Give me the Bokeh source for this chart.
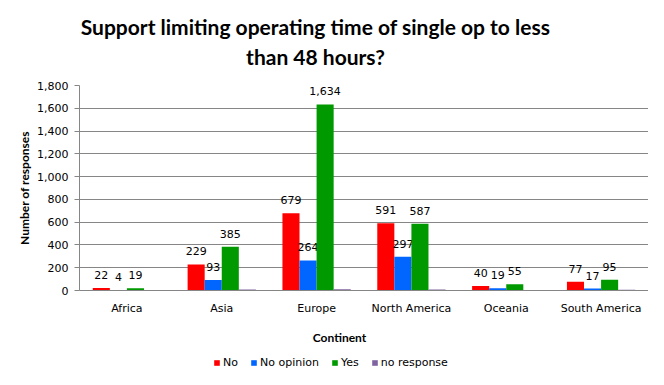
from bokeh.plotting import figure
from bokeh.layouts import column
from bokeh.models import (ColumnDataSource, FactorRange, Range1d, FixedTicker,
                          NumeralTickFormatter, Label, Legend, LegendItem)
from bokeh.transform import dodge
from bokeh.core.properties import value
from bokeh.embed import file_html
from bokeh.resources import INLINE

continents = ["Africa", "Asia", "Europe", "North America", "Oceania", "South America"]
no = [22, 229, 679, 591, 40, 77]
no_opinion = [4, 93, 264, 297, 19, 17]
yes = [19, 385, 1634, 587, 55, 95]
no_response = [0, 9, 10, 8, 0, 7]
y_ticks = list(range(0, 1801, 200))

series_names = ["No", "No opinion", "Yes", "no response"]
series_values = [no, no_opinion, yes, no_response]
colors = ["#FF0000", "#0066FF", "#009900", "#8064A2"]
offsets = [-0.27, -0.09, 0.09, 0.27]
show_labels = [True, True, True, False]

title_lines = ["Support limiting operating time of single op to less", "than 48 hours?"]
x_title = "Continent"
y_title = "Number of responses"

W = 648
LEFT = 79
TITLE_FONT = "Lato"
BODY_FONT = "DejaVu Sans"


def strip(height):
    # frames of the column are aligned with the main chart's frame (LEFT..W)
    f = figure(width=W, height=height, x_range=Range1d(LEFT, W), y_range=Range1d(height, 0),
               output_backend="svg", toolbar_location=None,
               x_axis_type=None, y_axis_type=None,
               min_border_left=LEFT, min_border_right=0, min_border_top=0, min_border_bottom=0)
    f.outline_line_color = None
    f.xgrid.visible = False
    f.ygrid.visible = False
    f.background_fill_color = "white"
    f.border_fill_color = "white"
    return f


# ---- title strip ----
top = strip(70)
for txt, yy in zip(title_lines, [26, 56]):
    top.add_layout(Label(x=315, y=yy, text=txt, text_align="center", text_baseline="middle",
                         text_font=TITLE_FONT, text_font_style="bold", text_font_size="21px",
                         text_color="black"))

# ---- main chart ----
p = figure(x_range=FactorRange(*continents), y_range=Range1d(0, 1800),
           width=W, height=248, output_backend="svg", toolbar_location=None,
           min_border_left=LEFT, min_border_right=0, min_border_top=15,
           min_border_bottom=28)
p.outline_line_color = None
p.background_fill_color = "white"
p.border_fill_color = "white"

p.xgrid.grid_line_color = None
p.ygrid.grid_line_color = "#868686"
p.ygrid.ticker = FixedTicker(ticks=y_ticks)

p.yaxis.ticker = FixedTicker(ticks=y_ticks)
p.yaxis.formatter = NumeralTickFormatter(format="0,0")
p.yaxis.major_tick_in = 0
p.yaxis.major_tick_out = 5
p.yaxis.minor_tick_line_color = None
p.yaxis.major_label_standoff = 6

for ax in (p.xaxis, p.yaxis):
    ax.axis_line_color = "#868686"
    ax.major_tick_line_color = "#868686"
    ax.major_label_text_font = BODY_FONT
    ax.major_label_text_font_size = "11px"
    ax.major_label_text_color = "black"

p.xaxis.major_tick_line_color = None
p.xaxis.major_tick_out = 0
p.xaxis.major_tick_in = 0
p.xaxis.major_label_standoff = 11

p.yaxis.axis_label = y_title
p.yaxis.axis_label_text_font = TITLE_FONT
p.yaxis.axis_label_text_font_style = "bold"
p.yaxis.axis_label_text_font_size = "12px"
p.yaxis.axis_label_text_color = "black"
p.yaxis.axis_label_standoff = 2

for name, vals, col, off, lab in zip(series_names, series_values, colors, offsets, show_labels):
    src = ColumnDataSource(dict(x=continents, top=vals, txt=[f"{v:,}" for v in vals]))
    p.vbar(x=dodge("x", off, range=p.x_range), top="top", width=0.18, source=src,
           fill_color=col, line_color=None)
    if lab:
        p.text(x=dodge("x", off, range=p.x_range), y="top", text="txt", source=src,
               text_align="center", text_baseline="middle", y_offset=-13,
               text_font=value(BODY_FONT), text_font_size="11px", text_color="black")

# ---- bottom strip: x title + legend ----
bottom = strip(51)
bottom.add_layout(Label(x=339, y=19, text=x_title, text_align="center", text_baseline="middle",
                        text_font=TITLE_FONT, text_font_style="bold", text_font_size="12px",
                        text_color="black"))
items = []
for name, col in zip(series_names, colors):
    # legend-only renderers, placed far outside the visible strip
    r = bottom.vbar(x=[300], top=[5010], bottom=[5000], width=1, fill_color=col, line_color=None)
    items.append(LegendItem(label=name, renderers=[r]))
legend = Legend(items=items, orientation="horizontal", location=(213 - LEFT, 0),
                padding=0, margin=0, border_line_color=None, background_fill_alpha=0,
                glyph_width=7, glyph_height=7, label_width=0, label_height=10,
                label_standoff=3, spacing=12, label_text_font=BODY_FONT,
                label_text_font_size="11px", label_text_color="black")
bottom.add_layout(legend, "center")

layout = column(top, p, bottom, spacing=0)
open("out.html", "w").write(file_html(layout, INLINE))
